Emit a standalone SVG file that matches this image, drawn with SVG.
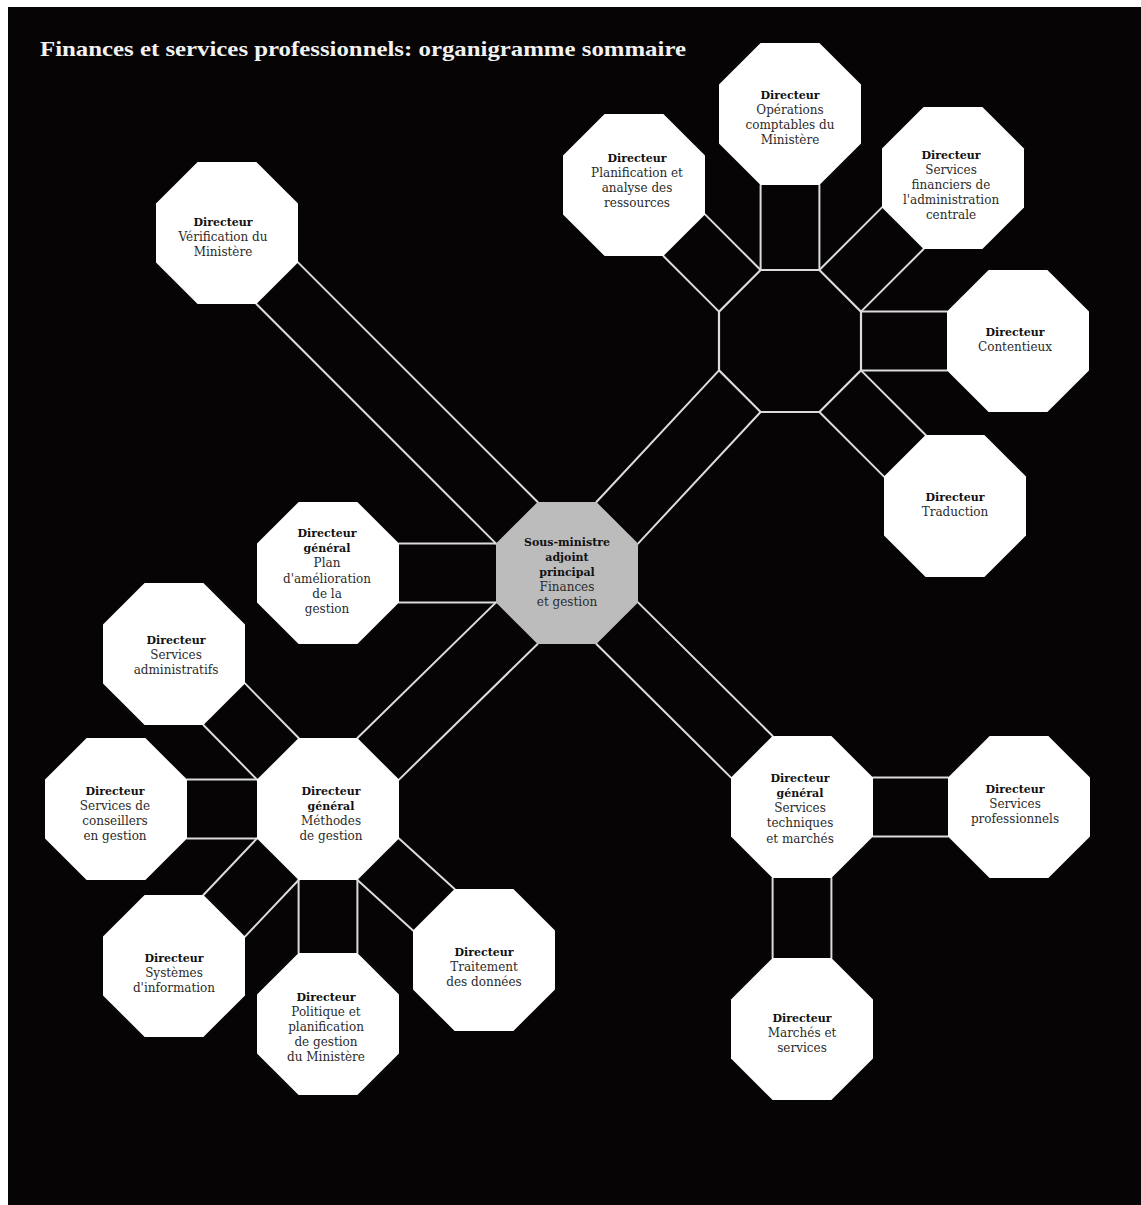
<svg xmlns="http://www.w3.org/2000/svg" xmlns:xlink="http://www.w3.org/1999/xlink" width="1141" height="1205" viewBox="0 0 1141 1205">
<style>
.bg{fill:#060404}
.conn line{stroke:#dcdcdc;stroke-width:2;stroke-linecap:round}
.oct{fill:#ffffff}
.gray{fill:#bcbcbc}
.hub{fill:#060404;stroke:#dcdcdc;stroke-width:2.2}
.t{font-family:"DejaVu Serif","Liberation Serif",serif;font-size:12px;fill:#2a2a2a;text-anchor:middle}
.b{font-weight:bold;font-size:11px;fill:#111}
.title{font-family:"Liberation Serif","Times New Roman",serif;font-weight:bold;font-size:22px;fill:#f2f2f2}
</style>
<defs>
<polygon id="oct" points="-29.4,-71 29.4,-71 71,-29.4 71,29.4 29.4,71 -29.4,71 -71,29.4 -71,-29.4"/>
</defs>
<rect x="0" y="0" width="1141" height="1205" fill="#ffffff"/>
<rect class="bg" x="8" y="7" width="1133" height="1198"/>
<text class="title" x="40" y="56" textLength="646" lengthAdjust="spacingAndGlyphs">Finances et services professionnels: organigramme sommaire</text>

<g class="conn" id="connectors">
<line x1="298" y1="262.4" x2="537.6" y2="502"/>
<line x1="256.4" y1="304" x2="496" y2="543.6"/>
<line x1="399" y1="543.6" x2="496" y2="543.6"/>
<line x1="399" y1="602.4" x2="496" y2="602.4"/>
<line x1="596.4" y1="502" x2="719" y2="370.4"/>
<line x1="638" y1="543.6" x2="760.6" y2="412"/>
<line x1="496" y1="602.4" x2="357.4" y2="738"/>
<line x1="537.6" y1="644" x2="399" y2="779.6"/>
<line x1="638" y1="602.4" x2="772.6" y2="736"/>
<line x1="596.4" y1="644" x2="731" y2="777.6"/>
<line x1="719" y1="311.6" x2="663.4" y2="256"/>
<line x1="760.6" y1="270" x2="705" y2="214.4"/>
<line x1="760.6" y1="270" x2="760.6" y2="185"/>
<line x1="819.4" y1="270" x2="819.4" y2="185"/>
<line x1="819.4" y1="270" x2="882" y2="207.4"/>
<line x1="861" y1="311.6" x2="923.6" y2="249"/>
<line x1="861" y1="311.6" x2="947" y2="311.6"/>
<line x1="861" y1="370.4" x2="947" y2="370.4"/>
<line x1="861" y1="370.4" x2="925.6" y2="435"/>
<line x1="819.4" y1="412" x2="884" y2="476.6"/>
<line x1="257" y1="779.6" x2="203.4" y2="725"/>
<line x1="298.6" y1="738" x2="245" y2="683.4"/>
<line x1="257" y1="779.6" x2="187" y2="779.6"/>
<line x1="257" y1="838.4" x2="187" y2="838.4"/>
<line x1="257" y1="838.4" x2="203.4" y2="895"/>
<line x1="298.6" y1="880" x2="245" y2="936.6"/>
<line x1="298.6" y1="880" x2="298.6" y2="953"/>
<line x1="357.4" y1="880" x2="357.4" y2="953"/>
<line x1="399" y1="838.4" x2="454.6" y2="889"/>
<line x1="357.4" y1="880" x2="413" y2="930.6"/>
<line x1="873" y1="777.6" x2="948" y2="777.6"/>
<line x1="873" y1="836.4" x2="948" y2="836.4"/>
<line x1="772.6" y1="878" x2="772.6" y2="958"/>
<line x1="831.4" y1="878" x2="831.4" y2="958"/>
</g>

<g id="node-hub">
<use xlink:href="#oct" href="#oct" class="hub" transform="translate(790,341)"/>
</g>

<g id="node-center">
<use xlink:href="#oct" href="#oct" class="gray" transform="translate(567,573)"/>
<text class="t" x="567"><tspan class="b" x="567" y="546">Sous-ministre</tspan><tspan class="b" x="567" y="561">adjoint</tspan><tspan class="b" x="567" y="576">principal</tspan><tspan x="567" y="591">Finances</tspan><tspan x="567" y="606">et gestion</tspan></text>
</g>

<g id="node-verification">
<use xlink:href="#oct" href="#oct" class="oct" transform="translate(227,233)"/>
<text class="t"><tspan class="b" x="223" y="226">Directeur</tspan><tspan x="223" y="241">Vérification du</tspan><tspan x="223" y="256">Ministère</tspan></text>
</g>

<g id="node-plan">
<use xlink:href="#oct" href="#oct" class="oct" transform="translate(328,573)"/>
<text class="t"><tspan class="b" x="327" y="537">Directeur</tspan><tspan class="b" x="327" y="552">général</tspan><tspan x="327" y="567">Plan</tspan><tspan x="327" y="583">d'amélioration</tspan><tspan x="327" y="598">de la</tspan><tspan x="327" y="613">gestion</tspan></text>
</g>

<g id="node-planification">
<use xlink:href="#oct" href="#oct" class="oct" transform="translate(634,185)"/>
<text class="t"><tspan class="b" x="637" y="162">Directeur</tspan><tspan x="637" y="177">Planification et</tspan><tspan x="637" y="192">analyse des</tspan><tspan x="637" y="207">ressources</tspan></text>
</g>

<g id="node-operations">
<use xlink:href="#oct" href="#oct" class="oct" transform="translate(790,114)"/>
<text class="t"><tspan class="b" x="790" y="99">Directeur</tspan><tspan x="790" y="114">Opérations</tspan><tspan x="790" y="129">comptables du</tspan><tspan x="790" y="144">Ministère</tspan></text>
</g>

<g id="node-financiers">
<use xlink:href="#oct" href="#oct" class="oct" transform="translate(953,178)"/>
<text class="t"><tspan class="b" x="951" y="159">Directeur</tspan><tspan x="951" y="174">Services</tspan><tspan x="951" y="189">financiers de</tspan><tspan x="951" y="204">l'administration</tspan><tspan x="951" y="219">centrale</tspan></text>
</g>

<g id="node-contentieux">
<use xlink:href="#oct" href="#oct" class="oct" transform="translate(1018,341)"/>
<text class="t"><tspan class="b" x="1015" y="336">Directeur</tspan><tspan x="1015" y="351">Contentieux</tspan></text>
</g>

<g id="node-traduction">
<use xlink:href="#oct" href="#oct" class="oct" transform="translate(955,506)"/>
<text class="t"><tspan class="b" x="955" y="501">Directeur</tspan><tspan x="955" y="516">Traduction</tspan></text>
</g>

<g id="node-methodes">
<use xlink:href="#oct" href="#oct" class="oct" transform="translate(328,809)"/>
<text class="t"><tspan class="b" x="331" y="795">Directeur</tspan><tspan class="b" x="331" y="810">général</tspan><tspan x="331" y="825">Méthodes</tspan><tspan x="331" y="840">de gestion</tspan></text>
</g>

<g id="node-administratifs">
<use xlink:href="#oct" href="#oct" class="oct" transform="translate(174,654)"/>
<text class="t"><tspan class="b" x="176" y="644">Directeur</tspan><tspan x="176" y="659">Services</tspan><tspan x="176" y="674">administratifs</tspan></text>
</g>

<g id="node-conseillers">
<use xlink:href="#oct" href="#oct" class="oct" transform="translate(116,809)"/>
<text class="t"><tspan class="b" x="115" y="795">Directeur</tspan><tspan x="115" y="810">Services de</tspan><tspan x="115" y="825">conseillers</tspan><tspan x="115" y="840">en gestion</tspan></text>
</g>

<g id="node-systemes">
<use xlink:href="#oct" href="#oct" class="oct" transform="translate(174,966)"/>
<text class="t"><tspan class="b" x="174" y="962">Directeur</tspan><tspan x="174" y="977">Systèmes</tspan><tspan x="174" y="992">d'information</tspan></text>
</g>

<g id="node-politique">
<use xlink:href="#oct" href="#oct" class="oct" transform="translate(328,1024)"/>
<text class="t"><tspan class="b" x="326" y="1001">Directeur</tspan><tspan x="326" y="1016">Politique et</tspan><tspan x="326" y="1031">planification</tspan><tspan x="326" y="1046">de gestion</tspan><tspan x="326" y="1061">du Ministère</tspan></text>
</g>

<g id="node-traitement">
<use xlink:href="#oct" href="#oct" class="oct" transform="translate(484,960)"/>
<text class="t"><tspan class="b" x="484" y="956">Directeur</tspan><tspan x="484" y="971">Traitement</tspan><tspan x="484" y="986">des données</tspan></text>
</g>

<g id="node-techniques">
<use xlink:href="#oct" href="#oct" class="oct" transform="translate(802,807)"/>
<text class="t"><tspan class="b" x="800" y="782">Directeur</tspan><tspan class="b" x="800" y="797">général</tspan><tspan x="800" y="812">Services</tspan><tspan x="800" y="827">techniques</tspan><tspan x="800" y="843">et marchés</tspan></text>
</g>

<g id="node-professionnels">
<use xlink:href="#oct" href="#oct" class="oct" transform="translate(1019,807)"/>
<text class="t"><tspan class="b" x="1015" y="793">Directeur</tspan><tspan x="1015" y="808">Services</tspan><tspan x="1015" y="823">professionnels</tspan></text>
</g>

<g id="node-marches">
<use xlink:href="#oct" href="#oct" class="oct" transform="translate(802,1029)"/>
<text class="t"><tspan class="b" x="802" y="1022">Directeur</tspan><tspan x="802" y="1037">Marchés et</tspan><tspan x="802" y="1052">services</tspan></text>
</g>
</svg>
